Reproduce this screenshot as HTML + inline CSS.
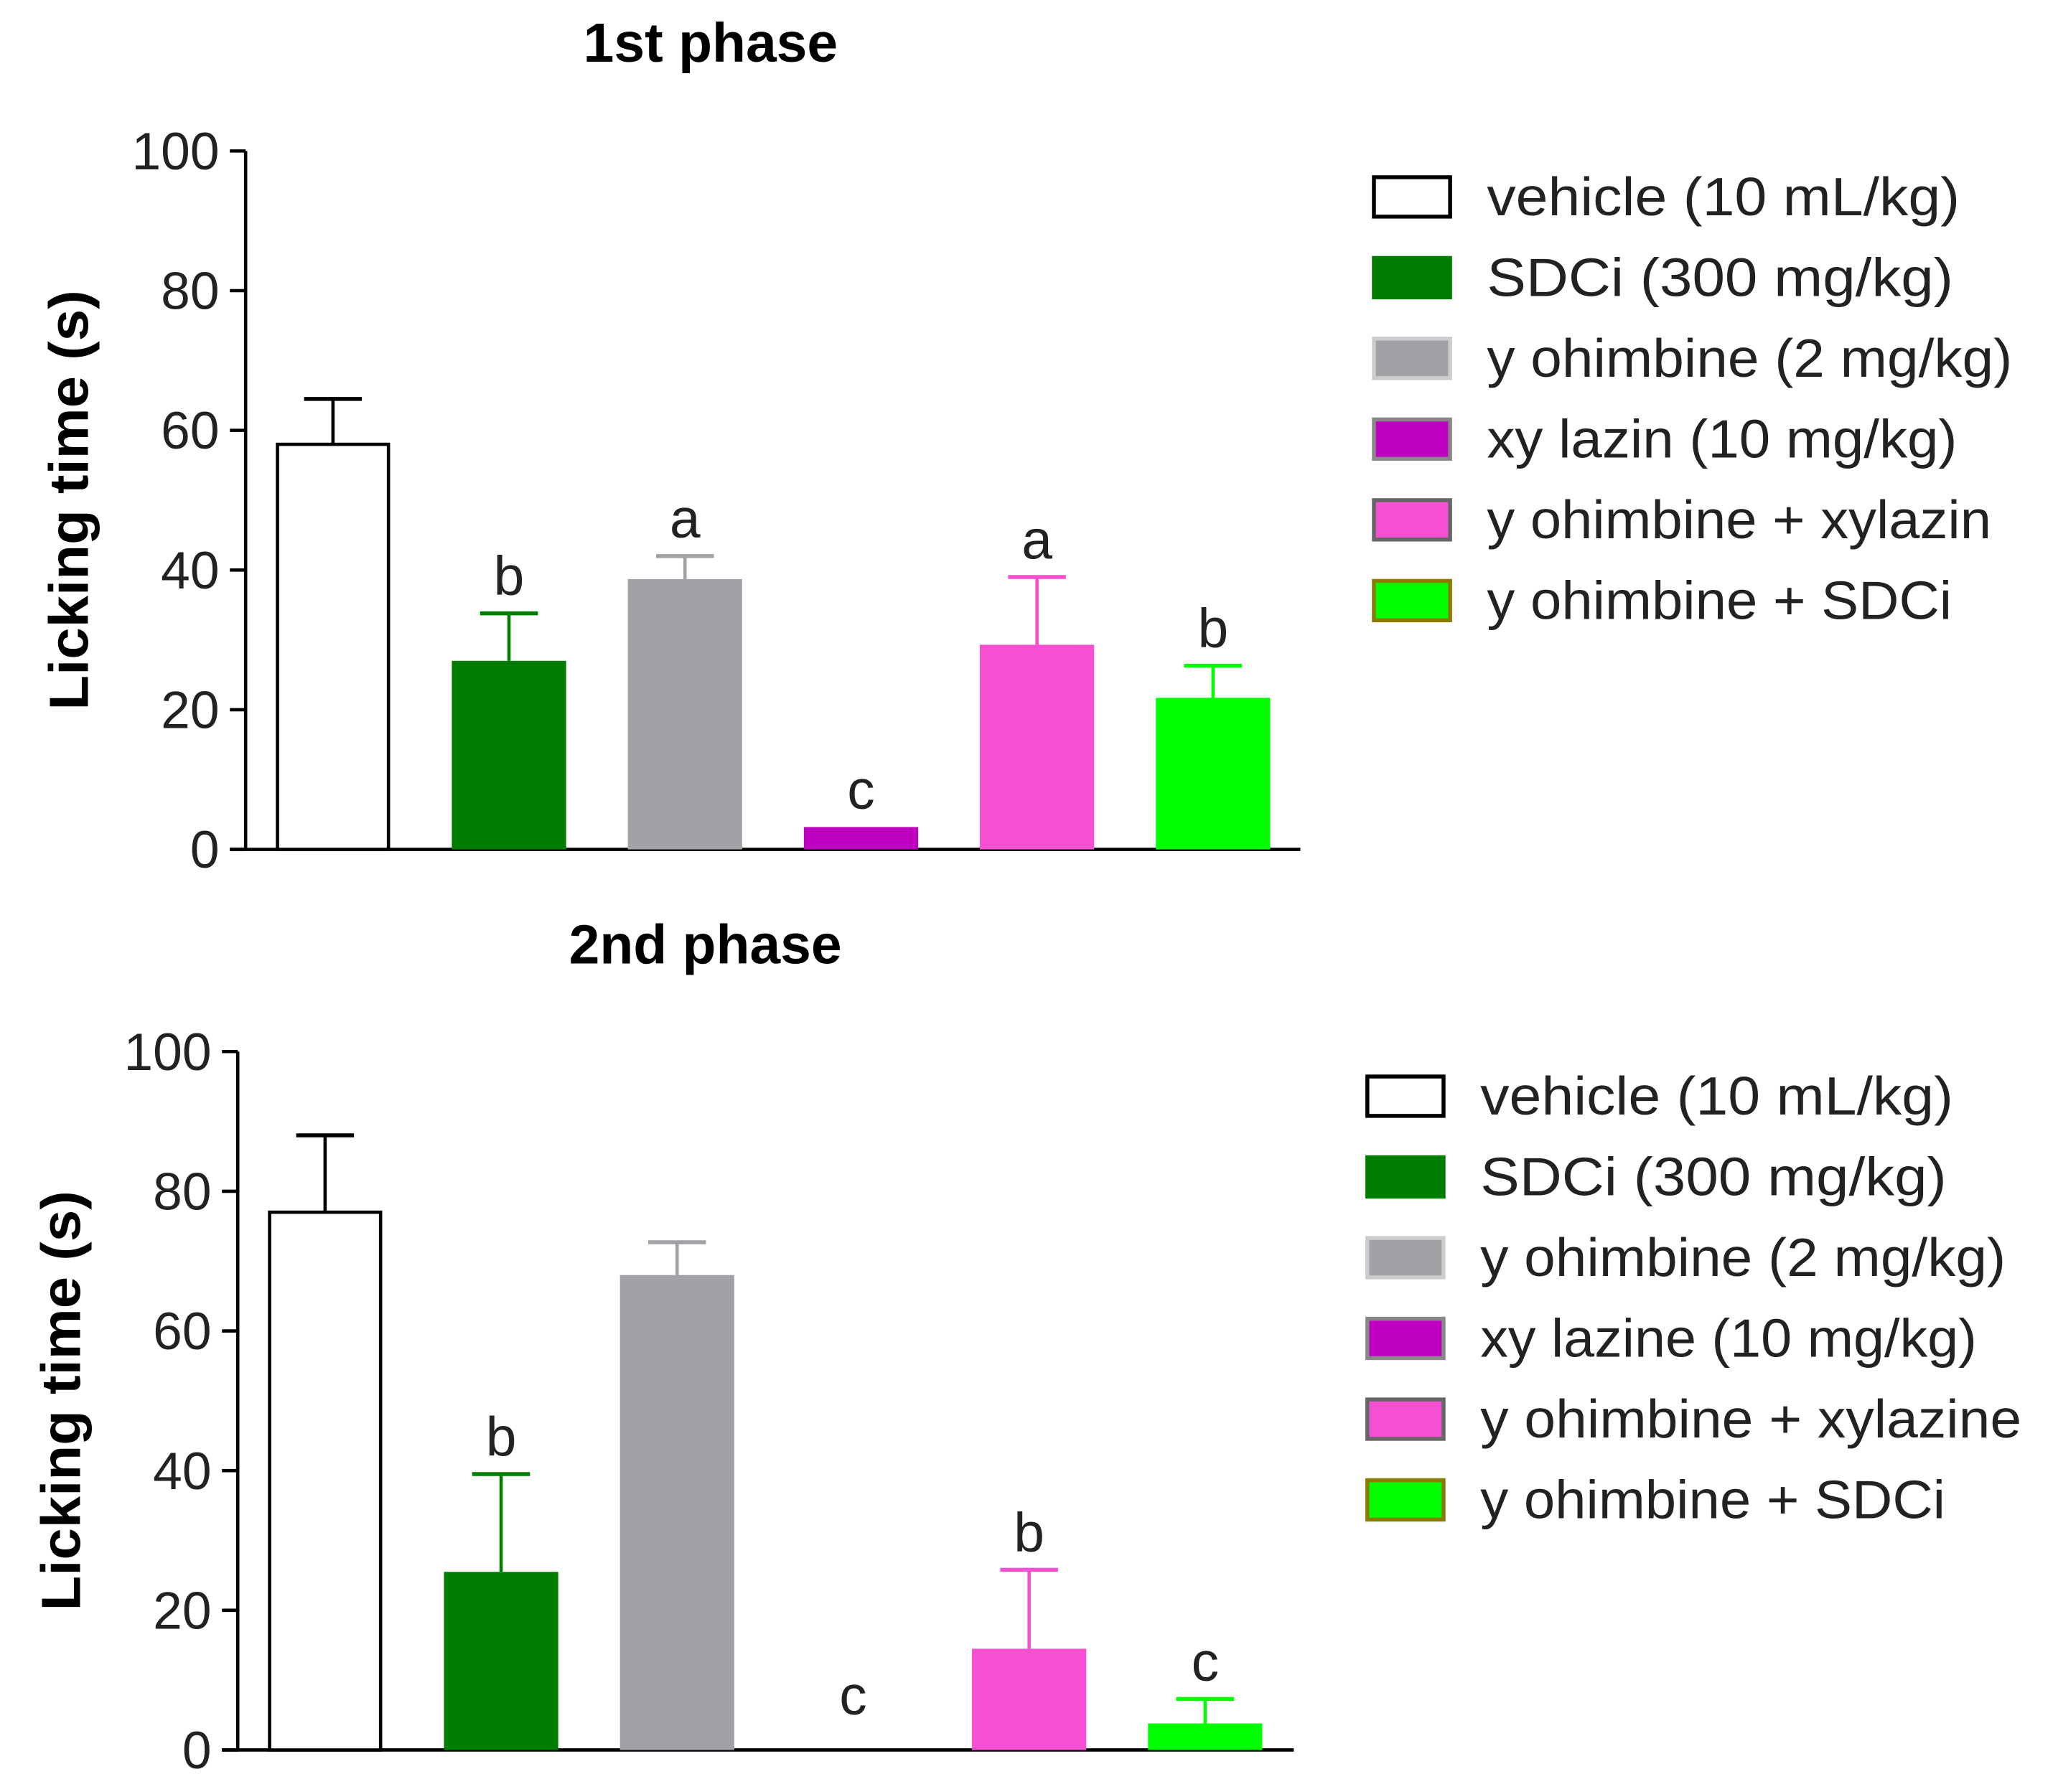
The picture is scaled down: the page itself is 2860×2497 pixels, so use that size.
<!DOCTYPE html>
<html><head><meta charset="utf-8">
<style>html,body{margin:0;padding:0;background:#fff}svg{display:block}text{font-family:"Liberation Sans",Arial,sans-serif}</style>
</head><body>
<svg id="chart" width="2860" height="2497" viewBox="0 0 1563 1365" preserveAspectRatio="none" xmlns="http://www.w3.org/2000/svg"></svg>
<script>
const categories = ["vehicle","SDCi","yohimbine","xylazin","yohimbine+xylazin","yohimbine+SDCi"];
const fills = ["#ffffff","#007d00","#a2a1a6","#c000c0","#f550d2","#00ff00"];
const strokes = ["#000000","#007d00","#a2a1a6","#c000c0","#f550d2","#00ff00"];
const phase1Values = [58, 27, 38.7, 3.2, 29.3, 21.7];
const phase1Errors = [6.5, 6.8, 3.3, 0, 9.7, 4.6];
const phase1Letters = ["", "b", "a", "c", "a", "b"];
const phase2Values = [77, 25.5, 68, 0, 14.5, 3.8];
const phase2Errors = [11, 14, 4.7, 0, 11.3, 3.5];
const phase2Letters = ["", "b", "", "c", "b", "c"];
const yTicks = [0, 20, 40, 60, 80, 100];
const legend1 = ["vehicle (10 mL/kg)","SDCi (300 mg/kg)","y ohimbine (2 mg/kg)","xy lazin (10 mg/kg)","y ohimbine + xylazin","y ohimbine + SDCi"];
const legend2 = ["vehicle (10 mL/kg)","SDCi (300 mg/kg)","y ohimbine (2 mg/kg)","xy lazine (10 mg/kg)","y ohimbine + xylazine","y ohimbine + SDCi"];
const legendBorders = ["#000","#007d00","#ccc","#888","#666","#8a7a00"];

const svg = document.getElementById('chart');
const NS = "http://www.w3.org/2000/svg";
function mk(tag, attrs, parent){const e=document.createElementNS(NS,tag);for(const k in attrs)e.setAttribute(k,attrs[k]);(parent||svg).appendChild(e);return e;}

function drawPanel(cfg){
  const g = mk('g',{});
  
  
  const y = v => cfg.y0 - (v/100)*(cfg.y0-cfg.y100);
  const x = i => cfg.barStart + i*cfg.step;
  const t = mk('text',{x:cfg.titleX,y:cfg.titleY,'font-size':42,'font-weight':'bold','text-anchor':'middle'},g);
  t.textContent = cfg.title;
  
  
  const yl = mk('text',{x:0,y:0,'font-size':42,'font-weight':'bold','text-anchor':'middle',textLength:320,lengthAdjust:'spacingAndGlyphs',transform:`translate(${cfg.axisX-120},${(cfg.y0+cfg.y100)/2}) rotate(-90)`},g);
  yl.textContent = "Licking time (s)";
  
  
  const ya = mk('line',{x1:cfg.axisX,y1:cfg.y100,x2:cfg.axisX,y2:cfg.y0,stroke:'#000','stroke-width':2.5},g);
  
  
  const xa = mk('line',{x1:cfg.axisX-12,y1:cfg.y0,x2:cfg.xEnd,y2:cfg.y0,stroke:'#000','stroke-width':2.5},g);
  
  
  yTicks.forEach(v=>{
    mk('line',{x1:cfg.axisX-12,y1:y(v),x2:cfg.axisX,y2:y(v),stroke:'#000','stroke-width':2.5},g);
    const tl = mk('text',{x:cfg.axisX-20,y:y(v)+14,'font-size':40,'text-anchor':'end',fill:'#222'},g);
    tl.textContent = v;
    
    
  });
  cfg.values.forEach((v,i)=>{
    const bx = x(i), w = cfg.barW, top = y(v), c = strokes[i];
    if (v > 0) {
      const err = y(v + cfg.errors[i]);
      if (cfg.errors[i] > 0) {
        mk('line',{x1:bx+w/2,y1:top,x2:bx+w/2,y2:err,stroke:c,'stroke-width':2.5},g);
        mk('line',{x1:bx+w/2-22,y1:err,x2:bx+w/2+22,y2:err,stroke:c,'stroke-width':3},g);
      }
      const isW = fills[i]==='#ffffff';
      const r = mk('rect',{x:isW?bx+1.25:bx,y:top,width:isW?w-2.5:w,height:cfg.y0-top,fill:fills[i],stroke:isW?'#000':'none','stroke-width':2.5},g);
      
      
    }
    if (cfg.letters[i]) {
      const ly = (v>0 ? y(v+cfg.errors[i]) : y(0)-40) - 14;
      const lt = mk('text',{x:bx+w/2,y:v>0?ly:cfg.y0-27,'font-size':42,'text-anchor':'middle',fill:'#222'},g);
      lt.textContent = cfg.letters[i];
      
      
    }
  });
  cfg.legend.forEach((lab,i)=>{
    const ly = cfg.legY + i*61.5;
    const bb = mk('rect',{x:cfg.legX,y:ly-15,width:58,height:30,fill:fills[i],stroke:legendBorders[i],'stroke-width':3},g);
    
    
    const lt = mk('text',{x:cfg.legX+86,y:ly+14,'font-size':41,fill:'#222',textLength:cfg.legLen[i],lengthAdjust:'spacingAndGlyphs'},g);
    lt.textContent = lab;
    
    
  });
}

drawPanel({name:'phase-1-panel',title:'1st phase',titleX:541,titleY:47,axisX:187,y0:647,y100:115,xEnd:990,
  barStart:210,step:134,barW:87,values:phase1Values,errors:phase1Errors,letters:phase1Letters,
  legend:legend1,legX:1046,legY:150,legLen:[360,355,400,358,384,354]});
drawPanel({name:'phase-2-panel',title:'2nd phase',titleX:537,titleY:734,axisX:181,y0:1333,y100:801,xEnd:985,
  barStart:204,step:134,barW:87,values:phase2Values,errors:phase2Errors,letters:phase2Letters,
  legend:legend2,legX:1041,legY:835,legLen:[360,355,400,378,412,354]});
</script>
</body></html>
